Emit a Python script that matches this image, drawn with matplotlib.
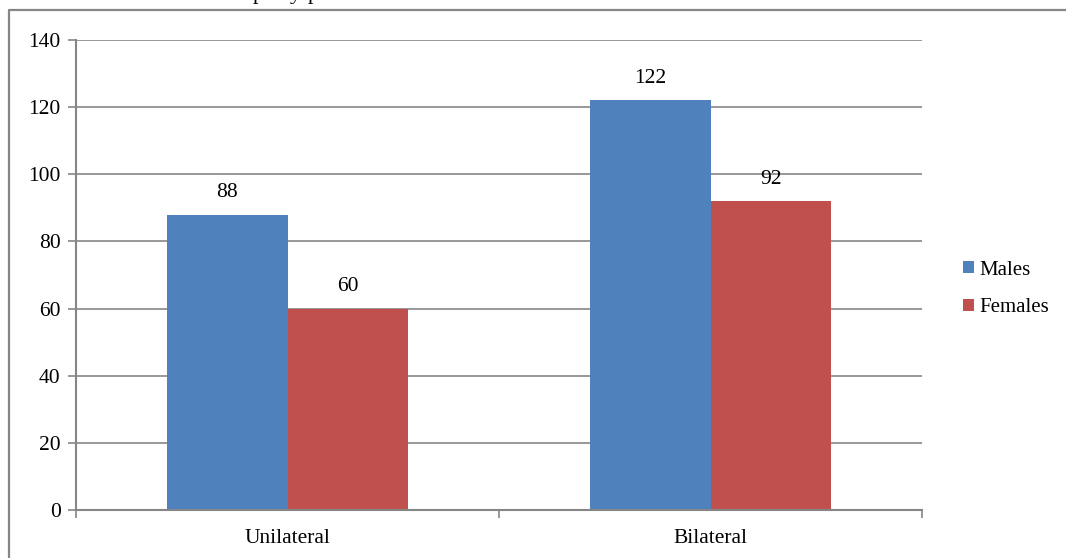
import matplotlib
matplotlib.use("Agg")
import matplotlib.pyplot as plt
from matplotlib.lines import Line2D
from matplotlib.patches import Patch
import numpy as np

categories = ["Unilateral", "Bilateral"]
series_names = ["Males", "Females"]
males = [88, 122]
females = [60, 92]
y_ticks = [0, 20, 40, 60, 80, 100, 120, 140]

colors = ["#4F81BD", "#C0504D"]
grey = "#868686"
W, H, DPI = 1066, 558, 100
FS = 15.5

plt.rcParams["font.family"] = ["Liberation Serif", "DejaVu Serif"]
plt.rcParams["font.size"] = FS

fig = plt.figure(figsize=(W / DPI, H / DPI), dpi=DPI)
ax = fig.add_axes([76 / W, (H - 510) / H, 846 / W, 470 / H])

centers = np.arange(len(categories)) + 0.5
bw = 1 / 3.5
for i, (vals, name) in enumerate(zip([males, females], series_names)):
    xs = centers + (i - 0.5) * bw
    bars = ax.bar(xs, vals, width=bw, color=colors[i], zorder=3, label=name)
    for b, v in zip(bars, vals):
        ax.annotate(f"{v}", (b.get_x() + b.get_width() / 2, v),
                    xytext=(0, 9), textcoords="offset points",
                    ha="center", va="bottom", fontsize=FS)

ax.set_xlim(0, len(categories))
ax.set_ylim(0, 140)
ax.set_yticks(y_ticks)
ax.set_xticks(np.arange(len(categories) + 1))
ax.set_xticklabels([])
ax.set_xticks(centers, minor=True)
ax.set_xticklabels(categories, minor=True)
ax.tick_params(axis="x", which="minor", length=0, pad=14)
ax.tick_params(axis="x", which="major", length=6, width=1.2, color=grey, direction="out")
ax.tick_params(axis="y", length=6, width=1.2, color=grey, direction="out", pad=5)

ax.yaxis.grid(True, color=grey, linewidth=1.2, zorder=0)
ax.set_axisbelow(True)
for s in ["top", "right"]:
    ax.spines[s].set_visible(False)
for s in ["left", "bottom"]:
    ax.spines[s].set_color(grey)
    ax.spines[s].set_linewidth(1.5)
    ax.spines[s].set_zorder(4)

handles = [Patch(facecolor=c, edgecolor="none") for c in colors]
fig.legend(handles, series_names, loc="center left",
           bbox_to_anchor=(953 / W, 1 - 289 / H), frameon=False,
           handlelength=0.5, handleheight=0.5, handletextpad=0.25,
           labelspacing=0.9, fontsize=15, borderpad=0)

# page frame around the chart
to_fig = lambda px, py: (px / W, 1 - py / H)
x0, y0 = to_fig(9, H)
x1, y1 = to_fig(9, 10)
x2, y2 = to_fig(W, 10)
fig.add_artist(Line2D([x0, x1, x2], [y0, y1, y2], color=grey, linewidth=1.6,
                      transform=fig.transFigure))

# descenders of the caption line above the frame
for ch, px in [("p", 258), ("y", 295), ("p", 313)]:
    fig.text(px / W, 1 + 1.0 / H, ch, ha="center", va="baseline", fontsize=16)

fig.savefig("out.png", dpi=DPI)
